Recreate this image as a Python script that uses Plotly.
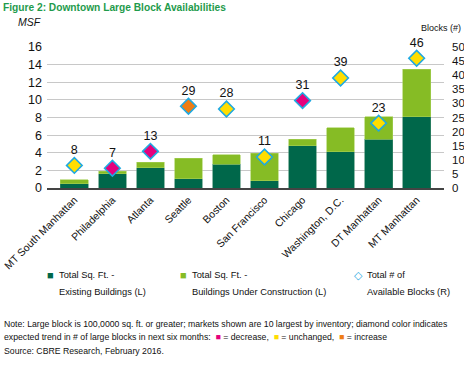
import plotly.graph_objects as go

markets = ["MT South Manhattan", "Philadelphia", "Atlanta", "Seattle", "Boston",
           "San Francisco", "Chicago", "Washington, D.C.", "DT Manhattan", "MT Manhattan"]
existing_msf = [0.5, 1.6, 2.3, 1.05, 2.7, 0.85, 4.8, 4.1, 5.55, 8.1]
construction_msf = [0.45, 0.3, 0.6, 2.35, 1.1, 3.1, 0.75, 2.75, 2.55, 5.4]
blocks = [8, 7, 13, 29, 28, 11, 31, 39, 23, 46]
trend = ["unchanged", "decrease", "decrease", "increase", "unchanged",
         "unchanged", "decrease", "unchanged", "unchanged", "unchanged"]
left_ticks = [0, 2, 4, 6, 8, 10, 12, 14, 16]
right_ticks = [0, 5, 10, 15, 20, 25, 30, 35, 40, 45, 50]
legend_labels = [["Total Sq. Ft. -", "Existing Buildings (L)"],
                 ["Total Sq. Ft. -", "Buildings Under Construction (L)"],
                 ["Total # of", "Available Blocks (R)"]]

DARK = "#00674a"
LIGHT = "#86bc25"
CYAN = "#1fa9e1"
TREND_COLORS = {"decrease": "#e5007d", "unchanged": "#ffdd00", "increase": "#ef7d14"}
FONT = "Liberation Sans, Arial, sans-serif"

W, H = 464, 374
ML, MT = 47, 47
MR = W - 444
MB = H - 188

fig = go.Figure()
fig.add_trace(go.Bar(x=markets, y=existing_msf,
                     marker=dict(color=DARK, line=dict(color="#3f8a6e", width=0.6)),
                     name="Existing"))
fig.add_trace(go.Bar(x=markets, y=construction_msf,
                     marker=dict(color=LIGHT, line=dict(color="#a6d05a", width=0.6)),
                     name="Construction"))
fig.add_trace(go.Scatter(x=markets, y=blocks, yaxis="y2", mode="markers+text",
                         text=[str(b) for b in blocks], textposition="top center",
                         textfont=dict(family=FONT, size=12.5, color="#111"),
                         marker=dict(symbol="diamond", size=12,
                                     color=[TREND_COLORS[t] for t in trend],
                                     line=dict(color=CYAN, width=1.6)),
                         cliponaxis=False, name="Blocks"))

fig.update_layout(
    width=W, height=H,
    margin=dict(l=ML, r=MR, t=MT, b=MB, autoexpand=False),
    barmode="stack", bargap=0.27,
    showlegend=False,
    plot_bgcolor="white", paper_bgcolor="white",
    font=dict(family=FONT, color="#111"),
    xaxis=dict(tickangle=-45, tickfont=dict(size=10.5), showline=True, linecolor="#444",
               linewidth=1.5, ticks="", showgrid=False, automargin=False),
    yaxis=dict(range=[0, 16], tickvals=left_ticks, showgrid=True, gridcolor="#c8c8c8",
               gridwidth=1, zeroline=False, showline=False, tickfont=dict(size=12.5),
               ticks="", ticklabelstandoff=4, automargin=False),
    yaxis2=dict(range=[0, 50], tickvals=right_ticks, overlaying="y", side="right",
                showgrid=False, zeroline=False, showline=False, tickfont=dict(size=11.5),
                ticks="", ticklabelstandoff=7, automargin=False),
)


def px_ann(text, x, y, size, color="#111", xanchor="left", yanchor="middle"):
    # place text at figure pixel coordinates (from top-left)
    pw = W - ML - MR
    ph = H - MT - MB
    fig.add_annotation(text=text, x=(x - ML) / pw, y=(H - MB - y) / ph,
                       xref="paper", yref="paper", showarrow=False,
                       xanchor=xanchor, yanchor=yanchor,
                       font=dict(family=FONT, size=size, color=color))


px_ann("<b>Figure 2: Downtown Large Block Availabilities</b>", 1, 8, 10.2, color="#1f9b4c")
px_ann("<i>MSF</i>", 43, 22, 10.5, xanchor="right")
px_ann("Blocks (#)", 463, 28, 9, xanchor="right")

# legend
sym_x = [50, 183, 358]
sym = ["■", "■", "◇"]
sym_col = [DARK, LIGHT, CYAN]
for i in range(3):
    px_ann(sym[i], sym_x[i], 275, 11, color=sym_col[i], xanchor="center")
    px_ann(legend_labels[i][0], sym_x[i] + 7, 275, 9.3)
    px_ann(legend_labels[i][1], sym_x[i] + 7, 292, 9.3)

# note
note1 = "Note: Large block is 100,0000 sq. ft. or greater; markets shown are 10 largest by inventory; diamond color indicates"
note2 = ("expected trend in # of large blocks in next six months:  "
         f"<span style='color:{TREND_COLORS['decrease']}'>■</span> = decrease,  "
         f"<span style='color:{TREND_COLORS['unchanged']}'>■</span> = unchanged,  "
         f"<span style='color:{TREND_COLORS['increase']}'>■</span> = increase")
note3 = "Source: CBRE Research, February 2016."
px_ann(note1, 2, 324, 8.7)
px_ann(note2, 2, 337, 8.7)
px_ann(note3, 2, 351, 8.7)

# remove the browser's default 8px page margin so the figure fills the window
fig.write_html("out.html", config={"displayModeBar": False},
               post_script="document.body.style.margin='0';document.body.style.overflow='hidden';")
